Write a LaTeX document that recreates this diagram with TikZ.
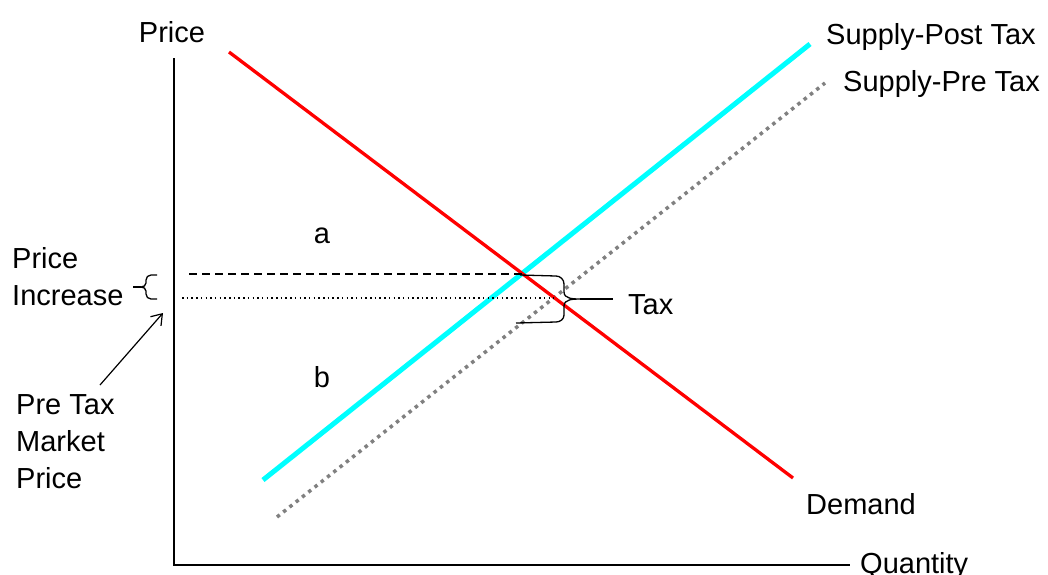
\documentclass[tikz,border=0pt]{standalone}
\usepackage{fontspec}
\setmainfont{Liberation Sans}
\usetikzlibrary{arrows.meta}
\definecolor{aqua}{RGB}{0,255,255}

\begin{document}
\begin{tikzpicture}[x=1pt, y=-1pt,
    axis/.style={line width=2.5pt},
    demand/.style={red, line width=3.3pt},
    postsupply/.style={aqua, line width=5pt},
    presupply/.style={gray, line width=3.5pt, dash pattern=on 3.5pt off 4.5pt},
    lbl/.style={font=\fontsize{29}{37}\selectfont, inner sep=0pt, align=left},
    guide/.style={line width=1.3pt},
    pointer/.style={line width=1.2pt, -{Straight Barb[length=10pt, width=14pt]}}
]
    \useasboundingbox (0,0) rectangle (1048,574);
    % axes
    \coordinate (ytop) at (174,58);
    \coordinate (origin) at (174,565);
    \coordinate (xend) at (850,565);
    \draw[axis] (ytop) -- (origin) -- (xend);
    \node[lbl, anchor=base] (pricelbl) at (172,42) {Price};
    \node[lbl, anchor=base west] (qtylbl) at (860,573) {Quantity};
    % curves
    \coordinate (d1) at (229,52);
    \coordinate (d2) at (793,478);
    \coordinate (s1) at (263,480);
    \coordinate (s2) at (810,44);
    \coordinate (p1) at (277,517);
    \coordinate (p2) at (825,83);
    \draw[presupply] (p1) -- (p2);
    \draw[postsupply] (s1) -- (s2);
    \draw[demand] (d1) -- (d2);
    \node[lbl, anchor=base west] (postlbl) at (826,44) {Supply-Post Tax};
    \node[lbl, anchor=base west] (prelbl) at (843,91) {Supply-Pre Tax};
    \node[lbl, anchor=base west] (demlbl) at (806,514) {Demand};
    % price levels
    \coordinate (newp) at (189,274);
    \coordinate (neweq) at (522,274);
    \coordinate (oldp) at (182,298);
    \coordinate (oldeq) at (554,298);
    \draw[line width=1.2pt, dash pattern=on 8pt off 5pt] (newp) -- (neweq);
    \draw[line width=1.5pt, dash pattern=on 1.5pt off 3.2pt] (oldp) -- (oldeq);
    \node[lbl, anchor=base] (albl) at (322,243) {a};
    \node[lbl, anchor=base] (blbl) at (322,387) {b};
    % tax brace
    \coordinate (taxtop) at (520,275);
    \coordinate (taxbot) at (516,323);
    \coordinate (taxtip) at (580,299);
    \coordinate (taxend) at (613,299);
    \draw[guide] (taxtop) -- (556,276) to[out=0, in=90] (564,284) -- (564,292)
        to[out=-90, in=180] (taxtip) to[out=180, in=90] (564,306) -- (564,315)
        to[out=-90, in=0] (556,322) -- (taxbot);
    \draw[line width=2pt] (taxtip) -- (taxend);
    \node[lbl, anchor=base west] (taxlbl) at (628,314) {Tax};
    % price increase brace
    \coordinate (inctip) at (141,287);
    \coordinate (incend) at (133,287);
    \draw[guide] (157,275) -- (151,275) to[out=180, in=90] (146,280) -- (146,283)
        to[out=-90, in=0] (inctip) to[out=0, in=90] (146,291) -- (146,294)
        to[out=-90, in=180] (151,299) -- (157,299);
    \draw[line width=2pt] (inctip) -- (incend);
    \node[lbl, anchor=base west] (inclbl) at (12,305) {Price\\Increase};
    % pre tax price
    \node[lbl, anchor=base west] (pretaxlbl) at (16,488) {Pre Tax\\Market\\Price};
    \coordinate (pretaxfoot) at (100,385);
    \coordinate (pretaxhead) at (163,313);
    \draw[pointer] (pretaxfoot) -- (pretaxhead);
\end{tikzpicture}
\end{document}
